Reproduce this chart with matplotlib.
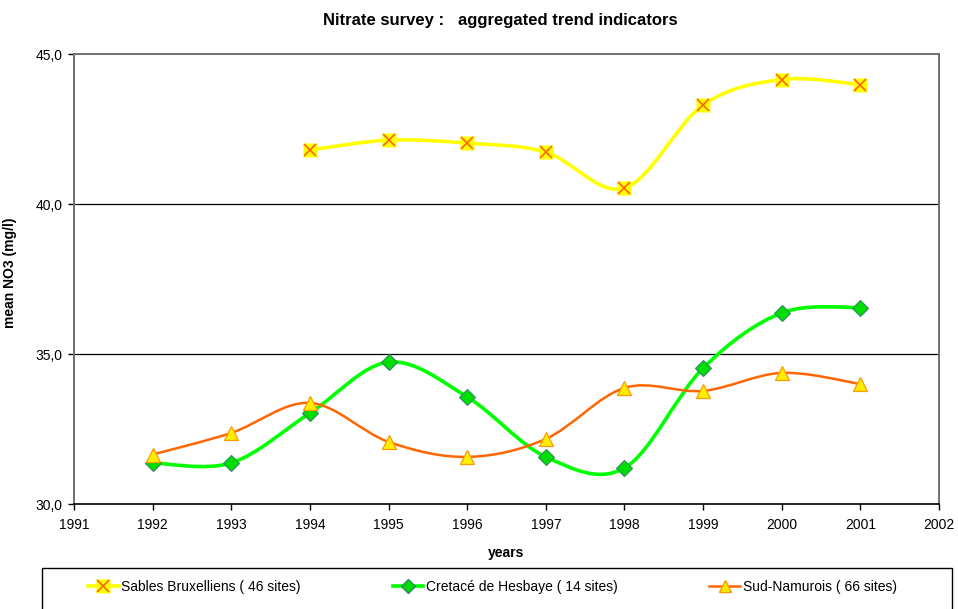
import numpy as np
import matplotlib
matplotlib.use('Agg')
from matplotlib import pyplot as plt
from matplotlib.path import Path
from matplotlib.patches import PathPatch, Rectangle
from matplotlib.lines import Line2D
from matplotlib.legend_handler import HandlerTuple
from matplotlib.ticker import FuncFormatter

plt.rcParams['font.family'] = ['Liberation Sans', 'DejaVu Sans']

years_sables = [1994, 1995, 1996, 1997, 1998, 1999, 2000, 2001]
sables = [41.8, 42.13, 42.03, 41.73, 40.53, 43.3, 44.15, 43.98]

years_all = [1992, 1993, 1994, 1995, 1996, 1997, 1998, 1999, 2000, 2001]
cretace = [31.37, 31.37, 33.03, 34.73, 33.57, 31.57, 31.2, 34.53, 36.37, 36.55]
namurois = [31.65, 32.37, 33.37, 32.07, 31.57, 32.17, 33.87, 33.77, 34.37, 34.0]

labels = ['Sables Bruxelliens ( 46 sites)',
          'Cretacé de Hesbaye ( 14 sites)',
          'Sud-Namurois ( 66 sites)']


def smooth_path(x, y):
    # bezier smoothing through the points (catmull-rom style control points)
    p = np.column_stack([x, y]).astype(float)
    ext = np.vstack([p[0], p, p[-1]])
    verts = [p[0]]
    codes = [Path.MOVETO]
    for i in range(1, len(ext) - 2):
        c1 = ext[i] + (ext[i + 1] - ext[i - 1]) / 6.0
        c2 = ext[i + 1] - (ext[i + 2] - ext[i]) / 6.0
        verts += [c1, c2, ext[i + 1]]
        codes += [Path.CURVE4] * 3
    return Path(verts, codes)


fig = plt.figure(figsize=(9.58, 6.09), dpi=100)
ax = fig.add_axes([74 / 958, 1 - 504 / 609, 865 / 958, 450 / 609])

yellow = '#FFFF00'
green = '#00FF00'
orange = '#FF6600'

# Sables Bruxelliens
ax.add_patch(PathPatch(smooth_path(years_sables, sables), fill=False,
                       edgecolor=yellow, lw=2.6, zorder=3))
ax.plot(years_sables, sables, ls='none', marker='s', ms=10.5,
        mfc=yellow, mec='none', zorder=4)
ax.plot(years_sables, sables, ls='none', marker='x', ms=8,
        mew=1.2, color=orange, zorder=5)

# Cretacé de Hesbaye
ax.add_patch(PathPatch(smooth_path(years_all, cretace), fill=False,
                       edgecolor=green, lw=2.6, zorder=3))
ax.plot(years_all, cretace, ls='none', marker='D', ms=8.5,
        mfc='#00DD00', mec='#338866', mew=0.8, zorder=4)

# Sud-Namurois
ax.add_patch(PathPatch(smooth_path(years_all, namurois), fill=False,
                       edgecolor=orange, lw=1.8, zorder=5))
ax.plot(years_all, namurois, ls='none', marker='^', ms=10.5,
        mfc='#FFEE00', mec='#FF9900', mew=0.9, zorder=6)

ax.set_xlim(1991, 2002)
ax.set_ylim(30, 45)
ax.set_xticks(range(1991, 2003))
ax.set_yticks([30, 35, 40, 45])
ax.yaxis.set_major_formatter(FuncFormatter(lambda v, p: f'{v:.1f}'.replace('.', ',')))
ax.tick_params(labelsize=10, length=4, width=1, direction='out', pad=4)
ax.tick_params(axis='x', pad=6)
for y in (35, 40):
    ax.axhline(y, color='black', lw=0.9, zorder=1)
for s in ('left', 'top', 'right'):
    ax.spines[s].set_color('#707070')
    ax.spines[s].set_linewidth(1.4)
ax.spines['bottom'].set_color('black')
ax.spines['bottom'].set_linewidth(1.2)

ax.set_xlabel('years', fontsize=10, fontweight='bold', labelpad=10)
ax.set_ylabel('mean NO3 (mg/l)', fontsize=10, fontweight='bold')
ax.yaxis.set_label_coords(-0.0655, 0.513)
fig.text(500 / 958, 1 - 20 / 609, 'Nitrate survey :   aggregated trend indicators',
         ha='center', va='center', fontsize=12, fontweight='bold')

# legend box runs off the bottom edge
fig.add_artist(Rectangle((42 / 958, -0.02), 910 / 958, 0.02 + 41 / 609,
                         transform=fig.transFigure, fill=False,
                         edgecolor='black', lw=1.0))

h1 = (Line2D([], [], color=yellow, lw=2.6, marker='s', ms=10, mfc=yellow, mec='none'),
      Line2D([], [], ls='none', marker='x', ms=8, mew=1.2, color=orange))
h2 = Line2D([], [], color=green, lw=2.6, marker='D', ms=7, mfc='#00DD00', mec='#338866')
h3 = Line2D([], [], color=orange, lw=1.8, marker='^', ms=9, mfc='#FFEE00', mec='#FF9900')
fig.legend([h1, h2, h3], labels, loc='center left',
           bbox_to_anchor=(88 / 958, 1 - 587 / 609),
           ncol=3, fontsize=10, borderpad=0, columnspacing=6.6,
           handlelength=2.2, handletextpad=0.2, borderaxespad=0,
           frameon=False, numpoints=1,
           handler_map={tuple: HandlerTuple(ndivide=1)})

fig.savefig('out.png', dpi=100)
